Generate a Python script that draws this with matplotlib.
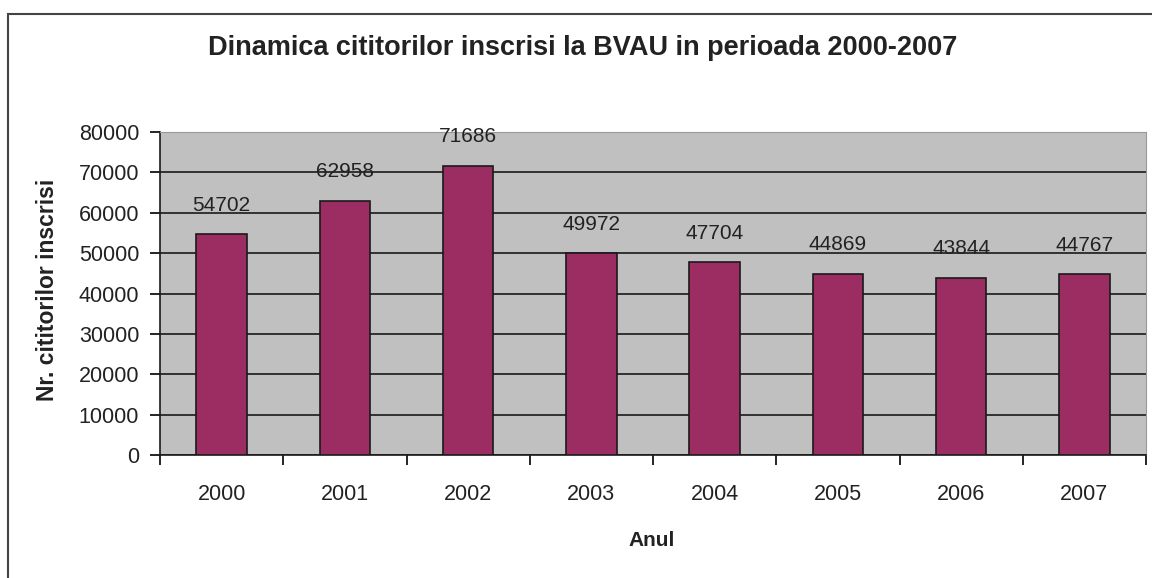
import matplotlib.pyplot as plt
from matplotlib.patches import Rectangle

years = ["2000", "2001", "2002", "2003", "2004", "2005", "2006", "2007"]
readers = [54702, 62958, 71686, 49972, 47704, 44869, 43844, 44767]

plt.rcParams["font.family"] = ["Liberation Sans", "DejaVu Sans"]
text_color = "#222222"

fig = plt.figure(figsize=(11.52, 5.78), dpi=100)
fig.patch.set_facecolor("white")

# outer chart border (only top and left visible in the picture)
fig.patches.append(Rectangle((8 / 1152, -0.5), 1.5, 1.5 - 14 / 578, transform=fig.transFigure,
                             fill=False, edgecolor="#444444", linewidth=1.5))

ax = fig.add_axes([160 / 1152, 1 - 455 / 578, 986 / 1152, 323 / 578])
ax.set_facecolor("#C0C0C0")

x = list(range(len(years)))
ax.bar(x, readers, width=0.41, color="#9B2D62", edgecolor="#1a1a1a", linewidth=1.2, zorder=3)

for xi, v in zip(x, readers):
    ax.text(xi, v + 7200, str(v), ha="center", va="center", fontsize=15, color=text_color, zorder=4)

ax.set_xlim(-0.5, len(years) - 0.5)
ax.set_ylim(0, 80000)
ax.set_yticks(range(0, 80001, 10000))
ax.tick_params(axis="y", labelsize=15.5, labelcolor=text_color, length=7, width=1.2, pad=8)

ax.set_xticks(x)
ax.set_xticklabels(years)
ax.set_xticks([i - 0.5 for i in range(len(years) + 1)], minor=True)
ax.tick_params(axis="x", which="major", length=0, labelsize=15.5, labelcolor=text_color, pad=21)
ax.tick_params(axis="x", which="minor", length=7, width=1.2)

ax.yaxis.grid(True, color="#1a1a1a", linewidth=1.2, zorder=1)
ax.set_axisbelow(True)

for side in ["top", "right"]:
    ax.spines[side].set_color("#999999")
    ax.spines[side].set_linewidth(0.8)
for side in ["left", "bottom"]:
    ax.spines[side].set_color("#1a1a1a")
    ax.spines[side].set_linewidth(1.2)

fig.text(48 / 1152, 1 - 290 / 578, "Nr. cititorilor inscrisi", rotation=90, ha="center", va="center",
         fontsize=16.5, fontweight="bold", color=text_color)
fig.text(652 / 1152, 1 - 540 / 578, "Anul", ha="center", va="center",
         fontsize=15, fontweight="bold", color=text_color)

fig.text(583 / 1152, 1 - 48 / 578, "Dinamica cititorilor inscrisi la BVAU in perioada 2000-2007",
         ha="center", va="center", fontsize=19.5, fontweight="bold", color=text_color)

fig.savefig("out.png", dpi=100)
